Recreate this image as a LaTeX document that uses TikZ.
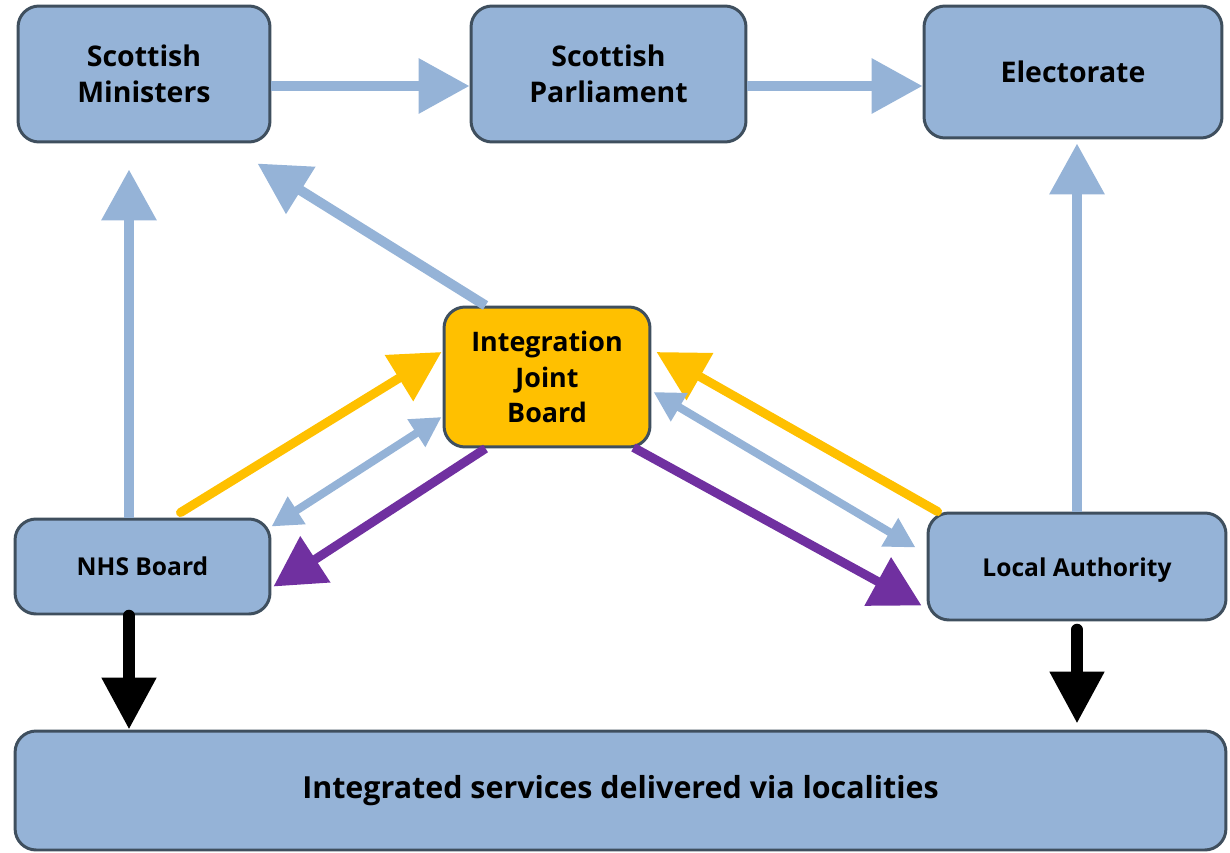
\documentclass[tikz,border=0pt]{standalone}
\usepackage{fontspec}
\setmainfont{Open Sans}
\usetikzlibrary{calc,arrows.meta,positioning}
\definecolor{boxblue}{HTML}{95B3D7}
\definecolor{boxedge}{HTML}{3F4F5E}
\definecolor{ijbgold}{HTML}{FFC000}
\definecolor{ijbpurple}{HTML}{7030A0}
\tikzset{
block/.style={
  rectangle,
  draw=boxedge,
  fill=boxblue,
  line width=1.7pt,
  align=center,
  rounded corners=0.42cm,
  inner sep=0pt,
  font=\bfseries\fontsize{16.2}{20.5}\selectfont},
smallblock/.style={
  block,
  font=\bfseries\fontsize{14}{17}\selectfont},
line/.style={draw=boxblue, line width=0.2cm,
  -{Triangle[length=1.02cm,width=1.06cm]}},
twoway/.style={draw=boxblue, line width=0.16cm,
  {Triangle[length=0.6cm,width=0.62cm]}-{Triangle[length=0.6cm,width=0.62cm]}},
feed/.style={draw=ijbgold, line width=0.18cm, line cap=round,
  -{Triangle[length=1.0cm,width=1.04cm]}},
direct/.style={draw=ijbpurple, line width=0.18cm,
  -{Triangle[length=1.0cm,width=1.06cm]}},
deliver/.style={draw=black, line width=0.23cm, line cap=round,
  -{Triangle[length=1.04cm,width=1.04cm]}}
}
\begin{document}
\begin{tikzpicture}[x=0.02cm,y=-0.02cm]
    \useasboundingbox (0,0) rectangle (1230,852);
    \node [block, minimum width=5.04cm, minimum height=2.72cm] (sm) at (144,74) {Scottish\\Ministers};
    \node [block, minimum width=5.5cm, minimum height=2.72cm] (sp) at (608.5,74) {Scottish\\Parliament};
    \node [block, minimum width=5.96cm, minimum height=2.64cm] (el) at (1073,72) {Electorate};
    \node [block, fill=ijbgold, minimum width=4.12cm, minimum height=2.8cm,
      font=\bfseries\fontsize{15.3}{20}\selectfont] (ijb) at (547,377) {Integration\\Joint\\Board};
    \node [smallblock, minimum width=5.1cm, minimum height=1.9cm] (nhs) at (142.5,566.5) {NHS Board};
    \node [smallblock, minimum width=5.96cm, minimum height=2.14cm,
      text height=0.45cm, text depth=0.05cm] (la) at (1077,566.5) {Local Authority};
    \node [block, minimum width=24.22cm, minimum height=2.38cm,
      font=\bfseries\fontsize{17.3}{20.5}\selectfont] (is) at (620.5,790.5) {Integrated services delivered via localities};
    \coordinate (nhsout) at ($(nhs.south)+(-13.5,0)$);
    \coordinate (laout) at ($(la.south)+(0,8)$);
    \path [line] ($(sm.east)+(0,12)$) -- ($(sp.west)+(0,12)$);
    \path [line] ($(sp.east)+(0,12)$) -- ($(el.west)+(0,14)$);
    \path [line] ($(nhs.north)+(-13.5,0)$) -- ($(sm.south)+(-15,26)$);
    \path [line] ($(ijb.north west)+(43,0)$) -- ($(sm.south east)+(-14,20)$);
    \path [line] (la.north) -- ($(el.south)+(4,4)$);
    \path [feed] ($(nhs.north)+(38,-5)$) -- ($(ijb.west)+(-1,-25)$);
    \path [feed] ($(la.north west)+(11,0)$) -- ($(ijb.east)+(5,-25)$);
    \path [twoway] ($(nhs.north east)+(0,9)$) -- ($(ijb.west)+(-1,40)$);
    \path [twoway] ($(ijb.east)+(2,15)$) -- ($(la.west)+(-11,-19)$);
    \path [direct] ($(ijb.south west)+(43,0)$) -- ($(nhs.east)+(2,20)$);
    \path [direct] ($(ijb.south east)+(-18,-1)$) -- ($(la.west)+(-5,39)$);
    \path [deliver] (nhsout) -- (nhsout |- is.north);
    \path [deliver] (laout) -- ($(laout |- is.north)+(0,-6)$);
\end{tikzpicture}
\end{document}
